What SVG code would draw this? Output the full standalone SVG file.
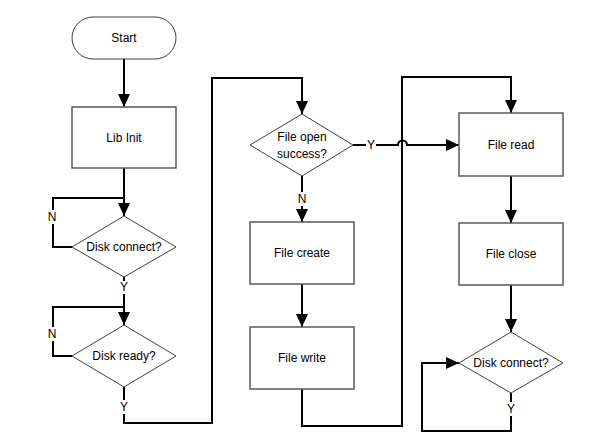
<svg xmlns="http://www.w3.org/2000/svg" width="609" height="448" viewBox="0 0 609 448">
<style>
.box{fill:#fff;stroke:#595959;stroke-width:1.5}
.dia{fill:#fff;stroke:#404040;stroke-width:1}
.c{fill:none;stroke:#000;stroke-width:2}
text{font-family:"Liberation Sans",Arial,sans-serif;font-size:12px;fill:#000;text-anchor:middle;dominant-baseline:central}
.bg{fill:#fff}
</style>
<defs>
<marker id="ah" markerUnits="userSpaceOnUse" markerWidth="14" markerHeight="14" viewBox="0 0 14 14" refX="13" refY="7" orient="auto">
<path d="M0,1 L13,7 L0,13 Z" fill="#000"/>
</marker>
</defs>
<rect width="609" height="448" fill="#fff"/>
<g id="connectors">
<path class="c" d="M124,59 V107" marker-end="url(#ah)"/>
<path class="c" d="M124,168 V216" marker-end="url(#ah)"/>
<path class="c" d="M72,247 H53 V198 H124"/>
<path class="c" d="M124,277 V325" marker-end="url(#ah)"/>
<path class="c" d="M72,356 H53 V307 H124"/>
<path class="c" d="M124,387 V423 H212 V78 H302 V114" marker-end="url(#ah)"/>
<path class="c" d="M302,176 V222" marker-end="url(#ah)"/>
<path class="c" d="M353,145 H398 A4.5,4.5 0 0 1 407,145 H459" marker-end="url(#ah)"/>
<path class="c" d="M302,284 V327" marker-end="url(#ah)"/>
<path class="c" d="M302,389 V426 H402 V77 H511 V113" marker-end="url(#ah)"/>
<path class="c" d="M511,176 V223" marker-end="url(#ah)"/>
<path class="c" d="M511,285 V332" marker-end="url(#ah)"/>
<path class="c" d="M511,393 V431 H422 V363 H459" marker-end="url(#ah)"/>
<rect class="bg" x="48" y="210" width="10" height="14"/>
<text x="52" y="217">N</text>
<rect class="bg" x="48" y="327" width="10" height="14"/>
<text x="52" y="334">N</text>
<rect class="bg" x="119" y="281" width="10" height="13"/>
<text x="124" y="287">Y</text>
<rect class="bg" x="119" y="400" width="10" height="14"/>
<text x="124" y="407">Y</text>
<rect class="bg" x="366" y="139" width="10" height="12"/>
<text x="371" y="145">Y</text>
<rect class="bg" x="297" y="192" width="10" height="14"/>
<text x="302" y="199">N</text>
<rect class="bg" x="506" y="402" width="10" height="14"/>
<text x="511" y="409">Y</text>
</g>
<g id="start">
<rect class="box" x="72" y="17" width="104" height="42" rx="21" ry="21" style="stroke:#404040;stroke-width:1"/>
<text x="124" y="38">Start</text>
</g>
<g id="libinit">
<rect class="box" x="72" y="107" width="104" height="61"/>
<text x="124" y="138">Lib Init</text>
</g>
<g id="diskconnect1">
<polygon class="dia" points="124,216 176,247 124,277 72,247"/>
<text x="124" y="247">Disk connect?</text>
</g>
<g id="diskready">
<polygon class="dia" points="124,325 176,356 124,387 72,356"/>
<text x="124" y="356">Disk ready?</text>
</g>
<g id="fileopen">
<polygon class="dia" points="302,114 353,145 302,176 250,145"/>
<text x="302" y="137">File open</text>
<text x="302" y="154">success?</text>
</g>
<g id="filecreate">
<rect class="box" x="250" y="222" width="104" height="62"/>
<text x="302" y="253">File create</text>
</g>
<g id="filewrite">
<rect class="box" x="250" y="327" width="104" height="62"/>
<text x="302" y="358">File write</text>
</g>
<g id="fileread">
<rect class="box" x="459" y="113" width="104" height="63"/>
<text x="511" y="145">File read</text>
</g>
<g id="fileclose">
<rect class="box" x="459" y="223" width="104" height="62"/>
<text x="511" y="254">File close</text>
</g>
<g id="diskconnect2">
<polygon class="dia" points="511,332 563,363 511,393 459,363"/>
<text x="511" y="363">Disk connect?</text>
</g>
</svg>
